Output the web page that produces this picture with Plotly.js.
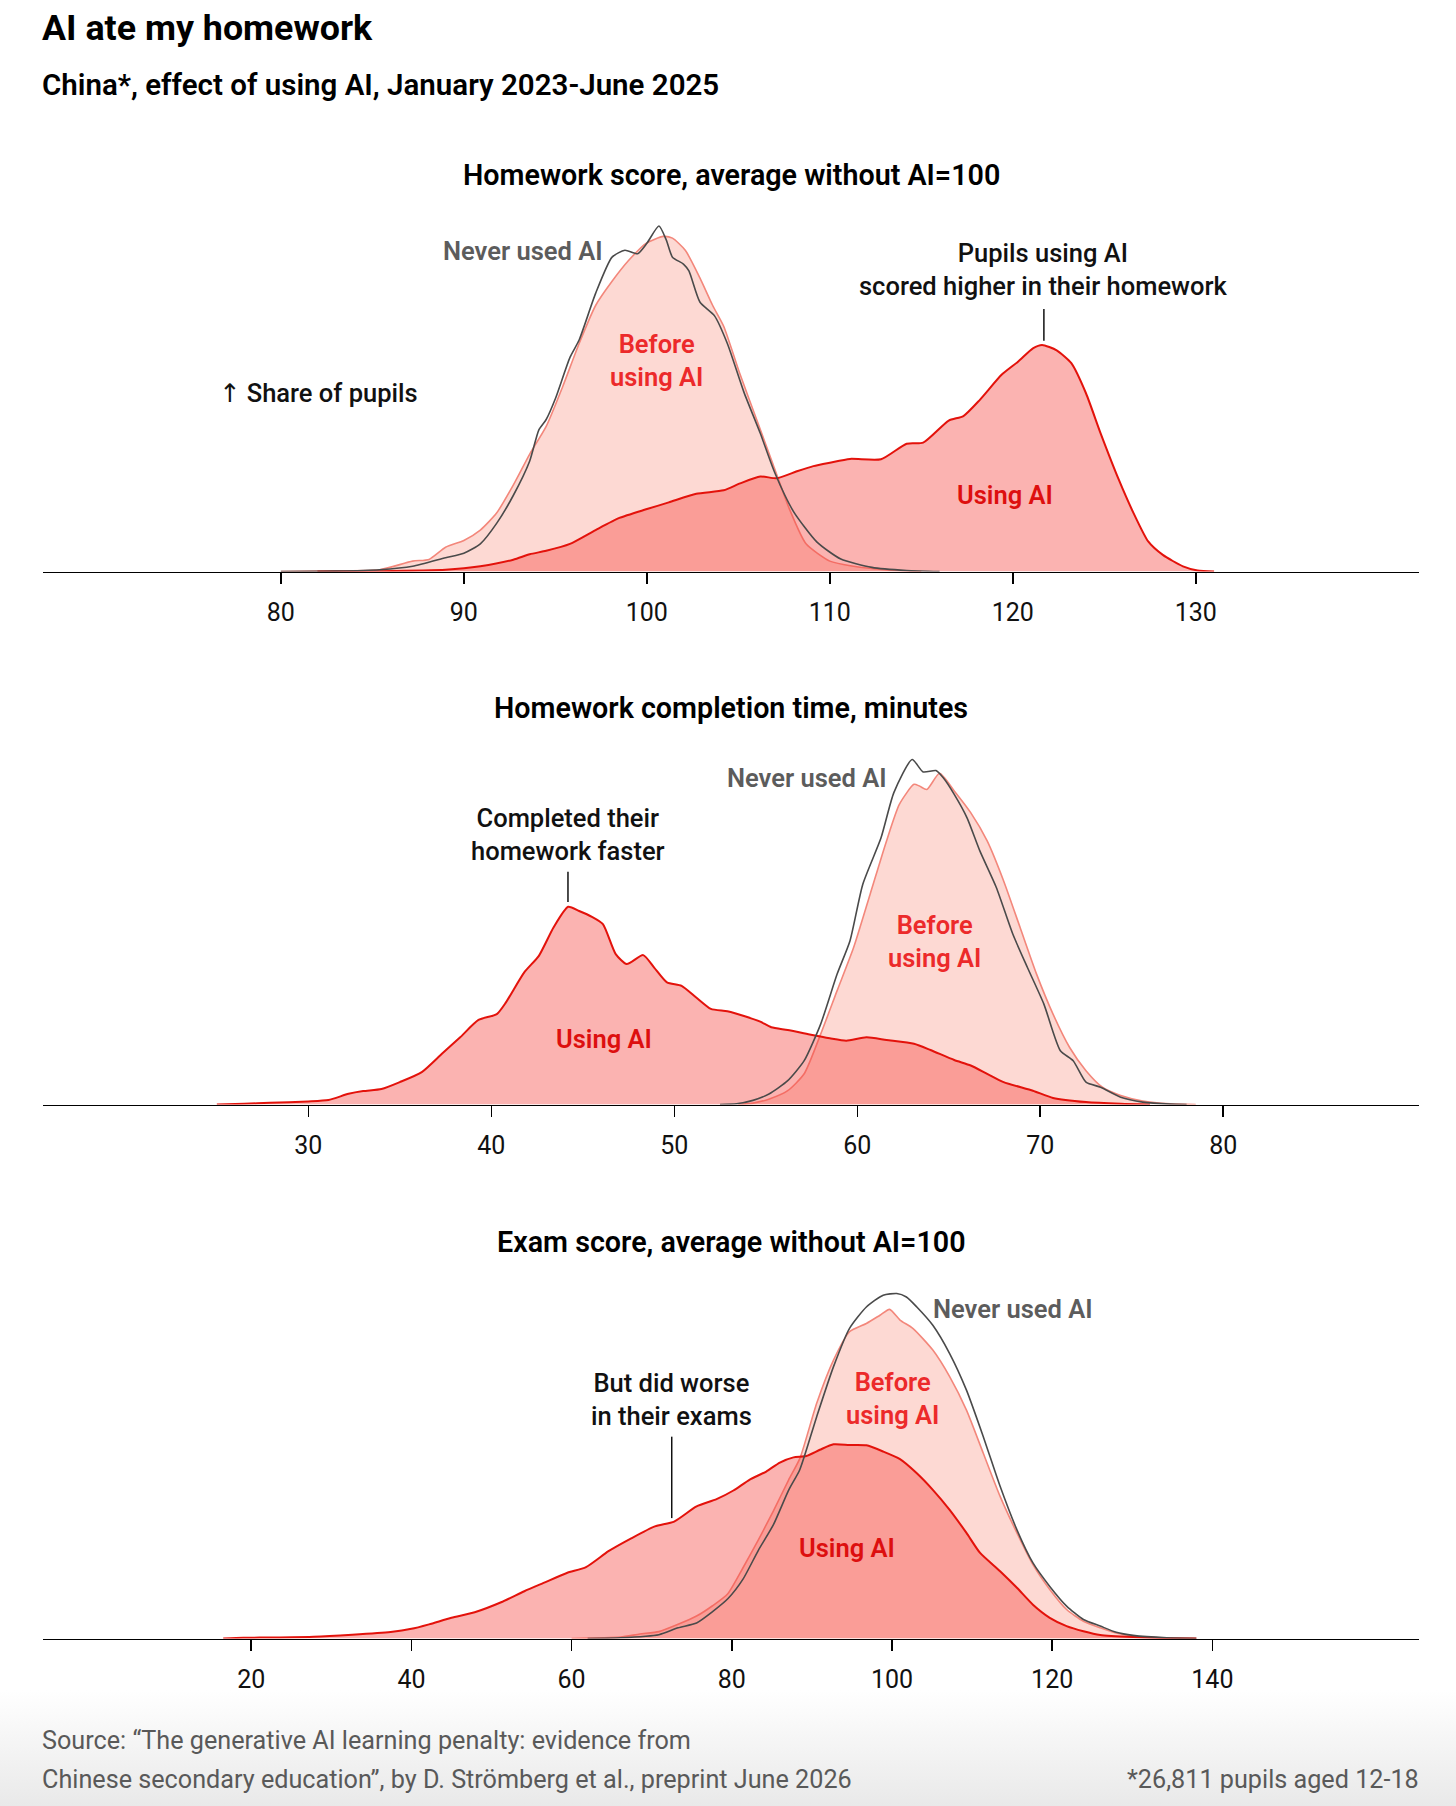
<!DOCTYPE html>
<html>
<head>
<meta charset="utf-8">
<script src="https://cdn.plot.ly/plotly-3.0.1.min.js"></script>
<style>
  html, body { margin: 0; padding: 0; }
  body { width: 1456px; height: 1806px; background: linear-gradient(to bottom, #ffffff 0px, #ffffff 1690px, #e9e9e9 1806px); }
  #chart { width: 1456px; height: 1806px; }
</style>
</head>
<body>
<div id="chart"></div>
<script>
// ---------- Panel 1: Homework score, average without AI = 100 ----------
const hsTicks = [80, 90, 100, 110, 120, 130];
const hsNeverX = [80, 83, 85.4, 87.2, 89.0, 90, 90.9, 91.8, 92.7, 93.6, 94.1, 94.5, 95.0, 95.8, 96.3, 97.2, 98.1, 98.8, 99.5, 100.0, 100.66, 101.06, 101.4, 102.0, 102.3, 102.9, 103.7, 104.4, 105.3, 106.2, 107.0, 108.0, 109.3, 110.6, 112.3, 114.2, 116];
const hsNeverY = [0, 0.01, 0.05, 0.15, 0.4, 0.53, 0.8, 1.4, 2.2, 3.2, 4.1, 4.4, 5.0, 6.2, 6.7, 8.05, 9.1, 9.3, 9.2, 9.5, 10, 9.6, 9.1, 8.9, 8.7, 7.8, 7.4, 6.6, 5.2, 4.0, 2.85, 1.75, 0.85, 0.36, 0.12, 0.03, 0];
const hsBeforeX = [80, 83, 85.4, 87.2, 88.1, 89.0, 90, 90.9, 91.8, 92.7, 93.6, 94.5, 95.4, 96.3, 97.2, 98.1, 99.0, 99.96, 100.9, 101.4, 102.1, 102.9, 103.6, 104.2, 105.1, 106.0, 106.9, 107.8, 108.7, 110, 111.3, 113, 115];
const hsBeforeY = [0, 0.02, 0.05, 0.3, 0.35, 0.7, 0.9, 1.2, 1.7, 2.5, 3.4, 4.2, 5.35, 6.6, 7.7, 8.4, 9.0, 9.5, 9.7, 9.65, 9.3, 8.5, 7.7, 7.1, 5.7, 4.4, 3.1, 1.8, 0.8, 0.3, 0.15, 0.05, 0];
const hsUsingX = [82, 85.4, 89.0, 90.9, 92.7, 93.6, 94.5, 95.8, 97.2, 98.5, 99.96, 101.2, 102.7, 104.2, 105.1, 106.2, 107.1, 108.2, 109.1, 110, 111.1, 112.8, 114.2, 115.1, 116.5, 117.3, 118.2, 119.4, 120.3, 121.1, 121.6, 122.4, 123.2, 124.0, 124.8, 125.8, 126.6, 127.4, 128.2, 129.3, 130.1, 131];
const hsUsingY = [0, 0.01, 0.05, 0.15, 0.34, 0.5, 0.6, 0.8, 1.2, 1.55, 1.8, 2.0, 2.25, 2.35, 2.55, 2.75, 2.7, 2.9, 3.05, 3.15, 3.26, 3.25, 3.7, 3.73, 4.37, 4.5, 4.97, 5.7, 6.08, 6.46, 6.56, 6.4, 6.03, 5.16, 4.0, 2.65, 1.69, 0.87, 0.48, 0.15, 0.03, 0];

// ---------- Panel 2: Homework completion time, minutes ----------
const ctTicks = [30, 40, 50, 60, 70, 80];
const ctUsingX = [25, 26.5, 27.9, 30, 31.1, 32.2, 33.0, 34.0, 35.0, 36.2, 37.3, 38.3, 39.3, 40.3, 40.8, 41.8, 42.6, 43.4, 44.2, 44.8, 45.5, 46.1, 46.8, 47.4, 48.3, 48.9, 49.6, 50.4, 51.2, 52.0, 52.9, 53.9, 54.7, 55.3, 56.2, 57.4, 58.5, 59.4, 60.5, 61.6, 63.1, 64.0, 65.3, 66.2, 67.1, 68.0, 69.6, 70.7, 72.5, 74.4, 76];
const ctUsingY = [0, 0.02, 0.05, 0.09, 0.13, 0.31, 0.39, 0.45, 0.65, 0.94, 1.47, 1.95, 2.45, 2.62, 2.96, 3.83, 4.31, 5.13, 5.73, 5.61, 5.44, 5.23, 4.36, 4.07, 4.33, 3.97, 3.54, 3.44, 3.1, 2.77, 2.7, 2.55, 2.4, 2.24, 2.16, 2.03, 1.92, 1.85, 1.95, 1.87, 1.76, 1.58, 1.29, 1.13, 0.89, 0.65, 0.4, 0.19, 0.07, 0.02, 0];
const ctNeverX = [52.5, 53.4, 54.3, 55.2, 56.2, 57.1, 58.0, 58.9, 59.6, 60.3, 61.3, 62.0, 63.0, 63.6, 64.3, 64.7, 65.3, 66.0, 66.7, 67.6, 68.5, 69.3, 70.2, 71.1, 71.8, 72.5, 73.3, 74.4, 75.6, 77.1, 78];
const ctNeverY = [0, 0.02, 0.12, 0.31, 0.69, 1.27, 2.33, 3.78, 4.74, 6.38, 7.73, 9.04, 10.0, 9.64, 9.68, 9.47, 8.99, 8.31, 7.35, 6.29, 4.94, 3.97, 2.91, 1.56, 1.27, 0.65, 0.5, 0.21, 0.07, 0.01, 0];
const ctBeforeX = [53.5, 54.3, 55.2, 56.2, 57.1, 58.0, 58.9, 59.8, 60.7, 61.6, 62.3, 63.1, 63.4, 63.8, 64.5, 65.3, 66.2, 67.1, 68.0, 68.9, 69.8, 70.7, 71.6, 72.5, 73.4, 74.4, 75.6, 77.1, 78.5];
const ctBeforeY = [0, 0.04, 0.16, 0.4, 0.89, 2.04, 3.3, 4.55, 6.09, 7.64, 8.7, 9.28, 9.23, 9.13, 9.6, 9.09, 8.46, 7.64, 6.48, 5.13, 3.78, 2.62, 1.66, 0.98, 0.5, 0.26, 0.1, 0.02, 0];

// ---------- Panel 3: Exam score, average without AI = 100 ----------
const exTicks = [20, 40, 60, 80, 100, 120, 140];
const exUsingX = [16.5, 19.0, 23.0, 27.8, 32.6, 37.4, 40, 42.2, 45.0, 47.9, 51.2, 54.1, 56.5, 59.4, 61.8, 64.6, 67.5, 70.4, 72.8, 75.6, 78.1, 80.2, 82.2, 84.3, 86.0, 87.7, 89.3, 91.0, 92.7, 94.7, 96.8, 98.9, 101.0, 103.1, 105.1, 107.2, 109.3, 111.0, 113.5, 115.6, 117.6, 119.7, 121.8, 123.9, 126.0, 130.1, 134.3, 138];
const exUsingY = [0, 0.02, 0.03, 0.05, 0.11, 0.19, 0.28, 0.41, 0.6, 0.76, 1.05, 1.37, 1.61, 1.9, 2.07, 2.53, 2.91, 3.25, 3.39, 3.83, 4.04, 4.29, 4.6, 4.84, 5.1, 5.25, 5.29, 5.47, 5.63, 5.61, 5.6, 5.42, 5.2, 4.79, 4.31, 3.73, 3.06, 2.48, 1.95, 1.47, 0.98, 0.6, 0.36, 0.21, 0.1, 0.04, 0.01, 0];
const exNeverX = [62, 66.1, 70.9, 73.3, 75.6, 77.6, 79.5, 81.4, 83.3, 85.2, 87.1, 88.5, 90.6, 92.7, 94.7, 96.8, 98.9, 100.6, 101.8, 103.1, 105.1, 107.2, 109.3, 111.4, 113.5, 115.6, 117.6, 119.7, 121.8, 123.9, 126.0, 128.0, 130.1, 134.3, 138];
const exNeverY = [0, 0.02, 0.11, 0.31, 0.45, 0.78, 1.15, 1.72, 2.55, 3.3, 4.3, 4.9, 6.43, 7.88, 8.99, 9.61, 9.95, 10.0, 9.9, 9.61, 9.08, 8.26, 7.2, 5.85, 4.41, 3.15, 2.19, 1.51, 0.94, 0.55, 0.36, 0.18, 0.09, 0.02, 0];
const exBeforeX = [60, 66.1, 68.5, 70.9, 73.3, 75.6, 77.6, 79.5, 81.4, 83.3, 85.2, 87.1, 88.5, 90.6, 92.7, 94.7, 96.8, 98.5, 99.7, 101.0, 102.6, 105.1, 107.2, 109.3, 111.4, 113.5, 115.6, 117.6, 119.7, 121.8, 123.9, 126.0, 128.0, 130.1, 134.3, 138];
const exBeforeY = [0, 0.04, 0.13, 0.2, 0.41, 0.65, 0.95, 1.3, 2.05, 2.85, 3.7, 4.6, 5.22, 6.82, 8.07, 8.89, 9.13, 9.37, 9.54, 9.23, 8.99, 8.36, 7.59, 6.62, 5.37, 4.12, 3.06, 2.14, 1.42, 0.84, 0.5, 0.31, 0.16, 0.07, 0.01, 0];

// ---------- Text ----------
const chartTitle = 'AI ate my homework';
const chartSubtitle = 'China*, effect of using AI, January 2023-June 2025';
const panelTitles = ['Homework score, average without AI=100', 'Homework completion time, minutes', 'Exam score, average without AI=100'];
const sourceLines = ['Source: \u201cThe generative AI learning penalty: evidence from', 'Chinese secondary education\u201d, by D. Str\u00f6mberg et al., preprint June 2026'];
const footnote = '*26,811 pupils aged 12-18';

// ---------- Styles ----------
const FONT = 'Roboto, "Noto Sans", "DejaVu Sans", sans-serif';
const RED = '#e3120b';
const RED_TXT = '#ec2a2a';
const GREY_LINE = '#4a4a4a';
const GREY_TXT = '#5c5c5c';
const BEFORE_LINE = '#f3877b';
const BEFORE_FILL = '#fdd9d3';
const USING_FILL = 'rgba(245,75,70,0.42)';

function mk(x, y, ax, kind) {
  const base = { x: x, y: y, xaxis: 'x' + ax, yaxis: 'y' + ax, mode: 'lines', hoverinfo: 'skip', showlegend: false };
  if (kind === 'before') {
    return Object.assign(base, { fill: 'tozeroy', fillcolor: BEFORE_FILL, line: { color: BEFORE_LINE, width: 1.6, shape: 'spline', smoothing: 0.6 } });
  }
  if (kind === 'using') {
    return Object.assign(base, { fill: 'tozeroy', fillcolor: USING_FILL, line: { color: RED, width: 2, shape: 'spline', smoothing: 0.6 } });
  }
  return Object.assign(base, { line: { color: GREY_LINE, width: 1.6, shape: 'spline', smoothing: 0.6 } });
}

const data = [
  mk(hsBeforeX, hsBeforeY, '', 'before'),
  mk(hsUsingX, hsUsingY, '', 'using'),
  mk(hsNeverX, hsNeverY, '', 'never'),
  mk(ctBeforeX, ctBeforeY, '2', 'before'),
  mk(ctUsingX, ctUsingY, '2', 'using'),
  mk(ctNeverX, ctNeverY, '2', 'never'),
  mk(exBeforeX, exBeforeY, '3', 'before'),
  mk(exUsingX, exUsingY, '3', 'using'),
  mk(exNeverX, exNeverY, '3', 'never')
];

const H = 1806;
const py = p => 1 - p / H;

function xax(range, ticks, anchor) {
  return {
    range: range, tickvals: ticks, ticktext: ticks.map(String), anchor: anchor,
    showline: true, linecolor: '#000', linewidth: 1.5, ticks: 'outside', ticklen: 11, tickwidth: 1.5, tickcolor: '#000',
    showgrid: false, zeroline: false, fixedrange: true, ticklabelstandoff: 7,
    tickfont: { family: FONT, size: 25, color: '#111' }
  };
}
function yax(bottomPx, topPx) {
  return { domain: [py(bottomPx), py(topPx)], range: [0, 11], visible: false, fixedrange: true };
}

const txt = (text, x, y, xref, yref, opts) => Object.assign({
  text: text, x: x, y: y, xref: xref, yref: yref, showarrow: false,
  xanchor: 'center', yanchor: 'middle', align: 'center'
}, opts);

const fLabelBlack = { family: FONT, size: 25.5, color: '#111', weight: 500 };
const fGrey = { family: FONT, size: 25.5, color: GREY_TXT, weight: 600 };
const fRed = { family: FONT, size: 25.5, color: RED_TXT, weight: 600 };
const fRedDark = { family: FONT, size: 25.5, color: '#dd0f0f', weight: 600 };
const fPanel = { family: FONT, size: 28.7, color: '#000', weight: 600 };
const fFoot = { family: FONT, size: 25.2, color: '#595959' };

const annotations = [
  txt(chartTitle, 0, py(28), 'paper', 'paper', { xanchor: 'left', xshift: -3, font: { family: FONT, size: 35.8, color: '#000', weight: 700 } }),
  txt(chartSubtitle, 0, py(85), 'paper', 'paper', { xanchor: 'left', xshift: -3, font: { family: FONT, size: 29.5, color: '#000', weight: 600 } }),
  txt(panelTitles[0], 0.5, py(175), 'paper', 'paper', { font: fPanel }),
  txt(panelTitles[1], 0.5, py(708), 'paper', 'paper', { font: fPanel }),
  txt(panelTitles[2], 0.5, py(1242), 'paper', 'paper', { font: fPanel }),
  // panel 1
  txt('Never used AI', 97.7, 9.29, 'x', 'y', { xanchor: 'right', font: fGrey }),
  txt('Before<br>using AI', 100.55, 6.1, 'x', 'y', { font: fRed }),
  txt('Using AI', 119.57, 2.22, 'x', 'y', { font: fRedDark }),
  txt('Pupils using AI<br>scored higher in their homework', 121.64, 8.74, 'x', 'y', { font: fLabelBlack }),
  txt('\u2191 Share of pupils', 76.6, 5.17, 'x', 'y', { xanchor: 'left', xshift: -2, font: fLabelBlack }),
  // panel 2
  txt('Never used AI', 61.73, 9.46, 'x2', 'y2', { xanchor: 'right', font: fGrey }),
  txt('Completed their<br>homework faster', 44.19, 7.83, 'x2', 'y2', { font: fLabelBlack }),
  txt('Before<br>using AI', 64.24, 4.72, 'x2', 'y2', { font: fRed }),
  txt('Using AI', 46.16, 1.9, 'x2', 'y2', { font: fRedDark }),
  // panel 3
  txt('Never used AI', 105.1, 9.55, 'x3', 'y3', { xanchor: 'left', xshift: -2, font: fGrey }),
  txt('But did worse<br>in their exams', 72.53, 6.94, 'x3', 'y3', { font: fLabelBlack }),
  txt('Before<br>using AI', 100.1, 6.97, 'x3', 'y3', { font: fRed }),
  txt('Using AI', 94.4, 2.62, 'x3', 'y3', { font: fRedDark }),
  // footer
  txt(sourceLines[0], 0, py(1740), 'paper', 'paper', { xanchor: 'left', xshift: -3, font: fFoot }),
  txt(sourceLines[1], 0, py(1779), 'paper', 'paper', { xanchor: 'left', xshift: -3, font: fFoot }),
  txt(footnote, 1, py(1779), 'paper', 'paper', { xanchor: 'right', xshift: 2, font: fFoot })
];

const leader = (x, y0, y1, xr, yr) => ({ type: 'line', xref: xr, yref: yr, x0: x, x1: x, y0: y0, y1: y1, line: { color: '#111', width: 1.5 } });
const shapes = [
  leader(121.7, 6.68, 7.6, 'x', 'y'),
  leader(44.19, 5.87, 6.75, 'x2', 'y2'),
  leader(72.5, 3.49, 5.85, 'x3', 'y3')
];

const layout = {
  width: 1456, height: 1806,
  margin: { l: 43, r: 37, t: 0, b: 0, pad: 0 },
  paper_bgcolor: 'rgba(0,0,0,0)', plot_bgcolor: 'rgba(0,0,0,0)',
  font: { family: FONT },
  showlegend: false,
  xaxis: xax([67.0, 142.2], hsTicks, 'y'),
  yaxis: yax(571.5, 191.5),
  xaxis2: xax([15.5, 90.7], ctTicks, 'y2'),
  yaxis2: yax(1104.5, 725),
  xaxis3: xax([-6.0, 165.8], exTicks, 'y3'),
  yaxis3: yax(1638.5, 1259),
  annotations: annotations,
  shapes: shapes
};

Plotly.newPlot('chart', data, layout, { displayModeBar: false, staticPlot: true });
</script>
</body>
</html>
